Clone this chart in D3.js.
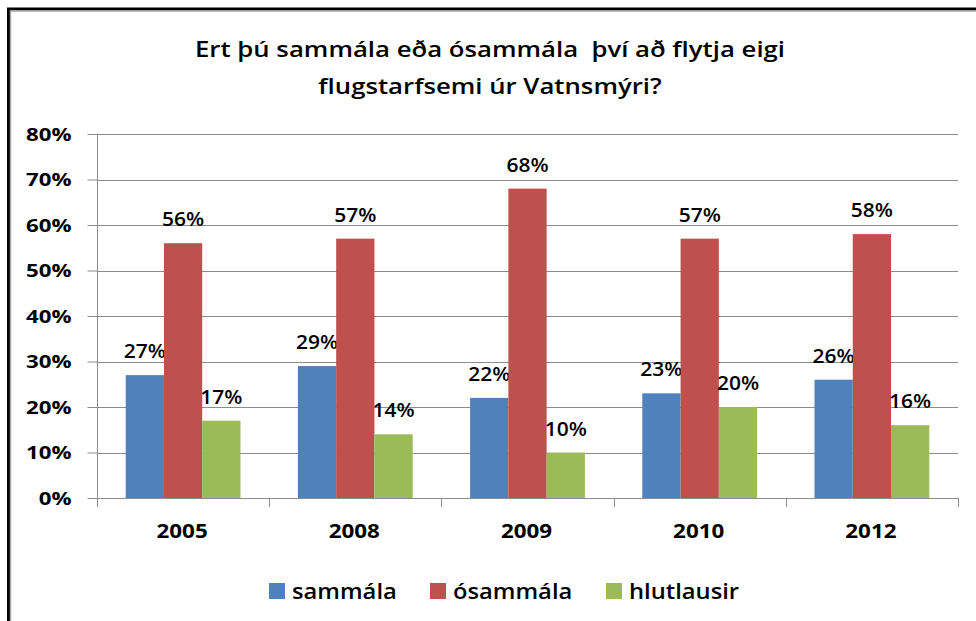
<!DOCTYPE html>
<html>
<head>
<meta charset="utf-8">
<script src="https://cdn.jsdelivr.net/npm/d3@7"></script>
<style>
  body { margin: 0; background: #fff; }
  text { font-family: "Open Sans", sans-serif; font-weight: bold; fill: #000; }
</style>
</head>
<body>
<script>
// chart data
var years = ['2005', '2008', '2009', '2010', '2012'];
var seriesNames = ['sammála', 'ósammála', 'hlutlausir'];
var sammala = [0.27, 0.29, 0.22, 0.23, 0.26];
var osammala = [0.56, 0.57, 0.68, 0.57, 0.58];
var hlutlausir = [0.17, 0.14, 0.10, 0.20, 0.16];
var yTicks = [0, 0.1, 0.2, 0.3, 0.4, 0.5, 0.6, 0.7, 0.8];
var titleLines = ['Ert þú sammála eða ósammála  því að flytja eigi', 'flugstarfsemi úr Vatnsmýri?'];

var series = [sammala, osammala, hlutlausir];
var cols = ["#4f81bd", "#c0504d", "#9bbb59"];

// the original picture is a bit stretched sideways, so text gets a scaleX
function place(x, y, sx) {
  return 'translate(' + x + ',' + y + ') scale(' + sx + ',1)';
}

var svg = d3.select('body').append('svg')
  .attr('width', 976)
  .attr('height', 621);

// frame (only top + left edge visible)
svg.append('rect')
  .attr('x', 8.5).attr('y', 9)
  .attr('width', 1000).attr('height', 700)
  .attr('fill', 'white')
  .attr('stroke', '#000')
  .attr('stroke-width', 3);
svg.append('path')
  .attr('d', 'M10.5,1000 V11 H1000')
  .attr('fill', 'none')
  .attr('stroke', '#a6a6a6')
  .attr('stroke-width', 1.5);

var x = d3.scaleBand()
  .domain(years)
  .range([97, 958]);

var y = d3.scaleLinear()
  .domain([0, 0.8])
  .range([498, 134]);

var fmt = d3.format('.0%');

// gridlines
svg.append('g')
  .selectAll('line')
  .data(yTicks.slice(1))
  .enter().append('line')
  .attr('x1', 97).attr('x2', 958)
  .attr('y1', function (d) { return Math.round(y(d)) + 0.5; })
  .attr('y2', function (d) { return Math.round(y(d)) + 0.5; })
  .attr('stroke', '#8c8c8c')
  .attr('stroke-width', 1);

// y axis
var yAxis = svg.append('g')
  .attr('transform', 'translate(97.5,0)')
  .call(d3.axisLeft(y).tickValues(yTicks).tickFormat(fmt).tickSize(10).tickPadding(16));
yAxis.select('.domain').attr('stroke', '#8c8c8c').attr('d', 'M0,' + y(0.8) + 'V' + y(0));
yAxis.selectAll('.tick line').attr('stroke', '#8c8c8c');
yAxis.selectAll('.tick text')
  .attr('x', 0)
  .attr('dy', '0.36em')
  .attr('transform', place(-26, 0, 1.24))
  .style('font-size', '18px')
  .style('font-family', '"Open Sans", sans-serif')
  .style('font-weight', 'bold');

// bars
var bw = x.bandwidth() / 4.5;
var groups = svg.append('g')
  .selectAll('g')
  .data(series)
  .enter().append('g')
  .attr('fill', function (d, i) { return cols[i]; });

function rows(d, i) {
  return d.map(function (v, j) { return { v: v, s: i, yr: years[j] }; });
}

groups.selectAll('rect')
  .data(rows)
  .enter().append('rect')
  .attr('x', function (d) { return x(d.yr) + 0.75 * bw + d.s * bw; })
  .attr('y', function (d) { return y(d.v); })
  .attr('width', bw)
  .attr('height', function (d) { return y(0) - y(d.v); });

// value labels
groups.selectAll('text')
  .data(rows)
  .enter().append('text')
  .attr('transform', function (d) {
    return place(x(d.yr) + 0.75 * bw + d.s * bw + bw / 2, y(d.v) - 17, 1.05);
  })
  .attr('text-anchor', 'middle')
  .style('font-size', '20px')
  .style('font-weight', '600')
  .text(function (d) { return fmt(d.v); });

// x axis
svg.append('line')
  .attr('x1', 97).attr('x2', 958)
  .attr('y1', 498.5).attr('y2', 498.5)
  .attr('stroke', '#8c8c8c');
svg.append('g')
  .selectAll('line')
  .data(years.concat(['end']))
  .enter().append('line')
  .attr('x1', function (d, i) { return Math.round(97 + i * x.step()) + 0.5; })
  .attr('x2', function (d, i) { return Math.round(97 + i * x.step()) + 0.5; })
  .attr('y1', 498).attr('y2', 507)
  .attr('stroke', '#8c8c8c');
svg.append('g')
  .selectAll('text')
  .data(years)
  .enter().append('text')
  .attr('transform', function (d) { return place(x(d) + x.bandwidth() / 2 - 1, 538, 1.12); })
  .attr('text-anchor', 'middle')
  .style('font-size', '20px')
  .text(function (d) { return d; });

// title
svg.append('g')
  .selectAll('text')
  .data(titleLines)
  .enter().append('text')
  .attr('transform', function (d, i) { return place(490, 57 + i * 37, 1.17); })
  .attr('text-anchor', 'middle')
  .style('white-space', 'pre')
  .style('font-size', '22px')
  .style('font-weight', '600')
  .text(function (d) { return d; });

// legend
var legendX = [269, 430, 606];
var legend = svg.append('g')
  .selectAll('g')
  .data(seriesNames)
  .enter().append('g')
  .attr('transform', function (d, i) { return 'translate(' + legendX[i] + ',583)'; });
legend.append('rect')
  .attr('width', 16).attr('height', 16)
  .attr('fill', function (d, i) { return cols[i]; });
legend.append('text')
  .attr('transform', place(23, 16, 1.08))
  .style('font-size', '22px')
  .style('font-weight', '600')
  .text(function (d) { return d; });
</script>
</body>
</html>
